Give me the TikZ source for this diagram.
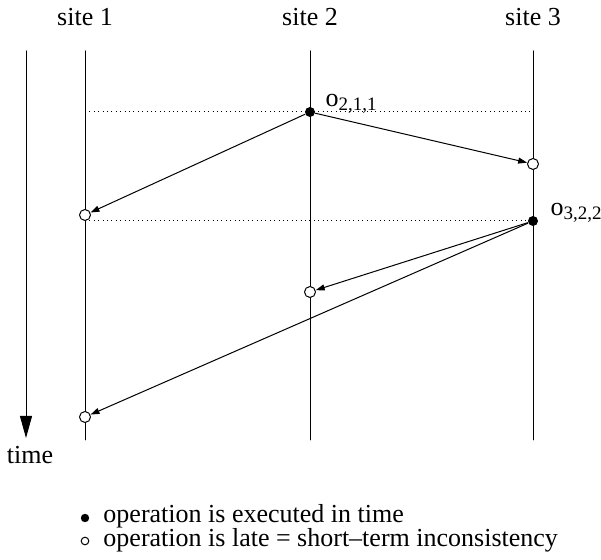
\documentclass[tikz,border=0pt]{standalone}
\usepackage{fontspec}
\setmainfont{Liberation Serif}
\usetikzlibrary{arrows.meta}
\begin{document}
\begin{tikzpicture}[x=0.5pt, y=-0.5pt, font=\fontsize{13}{15}\selectfont, line join=round, line cap=round, line width=0.5pt,
		>={Triangle[length=4.5pt,width=3pt]},
		done/.style={circle, fill, inner sep=0pt, minimum size=5pt},
		late/.style={circle, draw, fill=white, inner sep=0pt, minimum size=5.5pt},
		guide/.style={dash pattern=on 0.4pt off 1.8pt, line cap=butt},
		lab/.style={anchor=base west, inner sep=0pt}]
	\useasboundingbox (0,0) rectangle (601,560);
	\def\ytop{51} \def\ybot{440} % Ends of the time lines
	\newcommand{\opname}[1]{o\raisebox{-2pt}{\fontsize{9.5}{9.5}\selectfont #1}}
	% Sites
	\foreach \n/\x in {1/85,2/310,3/533}{
		\node[anchor=base] (site\n) at (\x,26) {site \n};
		\coordinate (top\n) at (\x,\ytop);
		\coordinate (bot\n) at (\x,\ybot);
		\draw (top\n)--(bot\n);
	}
	% Time axis
	\coordinate (ttop) at (26,\ytop);
	\coordinate (tbot) at (26,438);
	\draw[-{Triangle[length=11pt,width=6pt]}] (ttop)--(tbot);
	\node[anchor=base] (time) at (30,464) {time};
	% Events
	\coordinate (p211) at (310,112);
	\coordinate (p322) at (533,221);
	\draw[guide] (top1|-p211)--(top3|-p211);
	\draw[guide] (top1|-p322)--(top3|-p322);
	\node[done] (e211) at (p211) {};
	\node[done] (e322) at (p322) {};
	\node[late] (r211s3) at (533,164) {};
	\node[late] (r211s1) at (85,215) {};
	\node[late] (r322s2) at (310,292) {};
	\node[late] (r322s1) at (85,417) {};
	\node[lab] (l211) at (325,107) {\opname{2,1,1}};
	\node[lab] (l322) at (550,216) {\opname{3,2,2}};
	% Messages
	\draw[->] (e211)--(r211s3);
	\draw[->] (e211)--(r211s1);
	\draw[->] (e322)--(r322s2);
	\draw[->] (e322)--(r322s1);
	% Legend
	\node[done, minimum size=4.2pt] (kdone) at (85,518) {};
	\node[late, minimum size=3.8pt] (klate) at (85,541) {};
	\node[lab, text depth=0pt] (tdone) at (103,523) {operation is executed in time};
	\node[lab, text height=1.3ex] (tlate) at (103,547) {operation is late = short–term inconsistency};
\end{tikzpicture}
\end{document}
